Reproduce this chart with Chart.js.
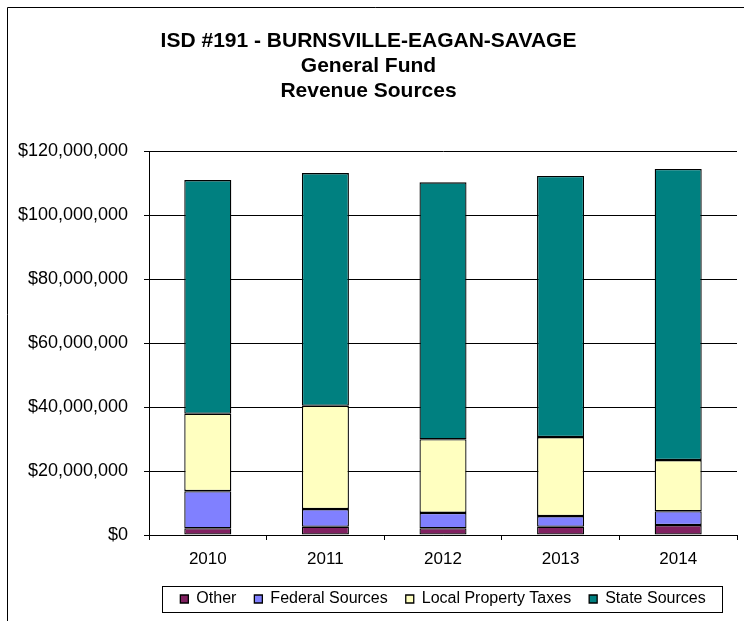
<!DOCTYPE html>
<html>
<head>
<meta charset="utf-8">
<script src="https://cdn.jsdelivr.net/npm/chart.js@4"></script>
<style>
  html, body { margin: 0; padding: 0; background: #fff; }
  #wrap { width: 744px; height: 621px; position: relative; }
</style>
</head>
<body>
<div id="wrap"><canvas id="c" width="744" height="621"></canvas></div>
<script>
// ---- data (millions of dollars) ----
const years = ['2010', '2011', '2012', '2013', '2014'];
const otherVals = [2.1, 2.6, 2.1, 2.6, 3.1];
const federalVals = [11.6, 5.5, 4.8, 3.3, 4.3];
const localVals = [24.2, 32.3, 23.0, 24.7, 16.0];
const stateVals = [73.0, 72.7, 80.3, 81.6, 91.0];
const titleLines = ['ISD #191 - BURNSVILLE-EAGAN-SAVAGE', 'General Fund', 'Revenue Sources'];
const seriesNames = ['Other', 'Federal Sources', 'Local Property Taxes', 'State Sources'];
const yMax = 120000000;
const yStep = 20000000;

const M = 1000000;
const toDollars = arr => arr.map(v => v * M);
const FONT = '"Liberation Sans", Arial, Helvetica, sans-serif';

const frame = {
  id: 'frame',
  afterDraw(chart) {
    const ctx = chart.ctx;
    ctx.save();
    ctx.strokeStyle = '#000';
    ctx.lineWidth = 1;
    ctx.beginPath();
    ctx.moveTo(7.5, 621);
    ctx.lineTo(7.5, 7.5);
    ctx.lineTo(744, 7.5);
    ctx.stroke();
    // border around legend items
    const lg = chart.legend;
    if (lg && lg.legendHitBoxes && lg.legendHitBoxes.length) {
      const hb = lg.legendHitBoxes;
      const first = hb[0], last = hb[hb.length - 1];
      const cy = first.top + first.height / 2;
      const l = Math.round(first.left - 18) + 0.5;
      const r = Math.round(last.left + last.width + 16) + 0.5;
      ctx.strokeRect(l, Math.round(cy - 13) + 0.5, r - l, 26);
    }
    ctx.restore();
  }
};

const mk = (label, data, color) => ({
  label, data: toDollars(data), backgroundColor: color,
  borderColor: '#000', borderWidth: 1.3, borderSkipped: false,
  barPercentage: 0.4, categoryPercentage: 1.0
});

new Chart(document.getElementById('c'), {
  type: 'bar',
  data: {
    labels: years,
    datasets: [
      mk(seriesNames[0], otherVals, '#802060'),
      mk(seriesNames[1], federalVals, '#8080FF'),
      mk(seriesNames[2], localVals, '#FFFFC0'),
      mk(seriesNames[3], stateVals, '#008080')
    ]
  },
  plugins: [frame],
  options: {
    responsive: false,
    animation: false,
    devicePixelRatio: 1,
    layout: { padding: { left: 0, right: 7, top: 0, bottom: 4 } },
    plugins: {
      title: {
        display: true,
        text: titleLines,
        color: '#000',
        font: { family: FONT, size: 21, weight: 'bold', lineHeight: 25 / 21 },
        padding: { top: 29, bottom: 47 }
      },
      legend: {
        position: 'bottom',
        fullSize: false,
        labels: {
          color: '#000',
          font: { family: FONT, size: 16 },
          boxWidth: 8, boxHeight: 8, padding: 18
        }
      },
      tooltip: { enabled: false }
    },
    scales: {
      x: {
        stacked: true,
        grid: {
          offset: true,
          drawOnChartArea: true,
          color: ctx => (ctx.index === years.length ? '#000' : 'rgba(0,0,0,0)'),
          tickColor: '#000',
          tickLength: 5,
          lineWidth: 1
        },
        border: { display: true, color: '#000', width: 1 },
        ticks: { color: '#000', font: { family: FONT, size: 17 }, padding: 9 },
        afterFit(scale) { scale.height = 38; }
      },
      y: {
        stacked: true,
        min: 0, max: yMax,
        grid: { color: '#000', tickColor: '#000', tickLength: 5, lineWidth: 1 },
        border: { display: true, color: '#000', width: 1 },
        ticks: {
          stepSize: yStep,
          color: '#000',
          padding: 16,
          font: { family: FONT, size: 18 },
          callback: v => '$' + Number(v).toLocaleString('en-US')
        },
        afterFit(scale) { scale.width = 149; }
      }
    }
  }
});
</script>
</body>
</html>
